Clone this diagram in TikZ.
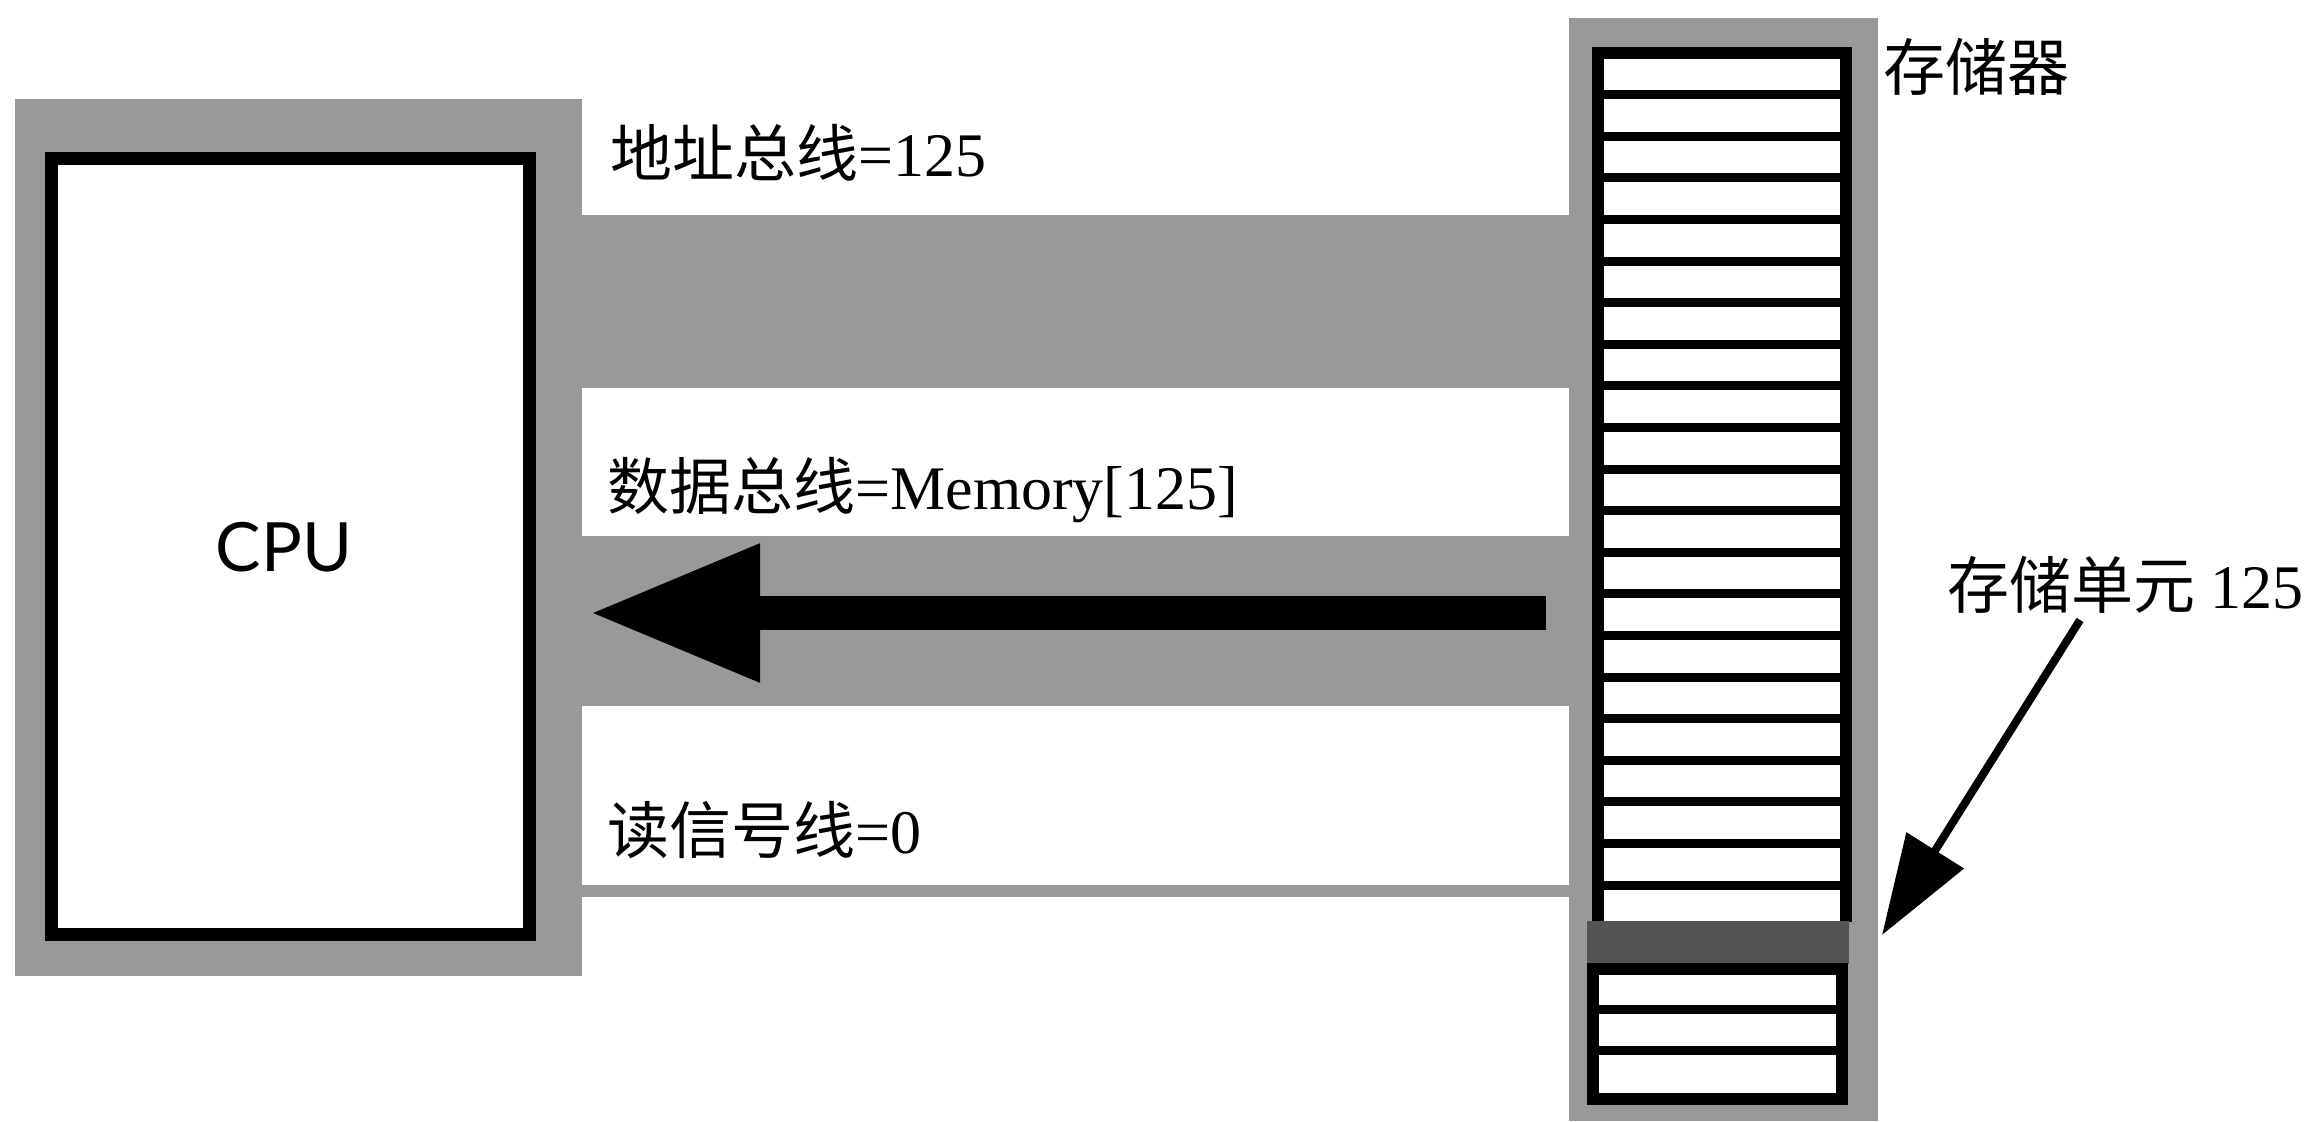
\documentclass[tikz,border=0pt]{standalone}
\usepackage{fontspec}
\setmainfont{Liberation Serif}
\newfontfamily\cjk{Noto Sans CJK SC}
\newfontfamily\cpufont{Lato}
\usetikzlibrary{arrows.meta,calc}
\definecolor{busgray}{gray}{0.6}
\definecolor{cellgray}{gray}{0.33}
\begin{document}
\begin{tikzpicture}[x=0.5pt,y=-0.5pt,
  lbl/.style={inner sep=0pt, anchor=base west, font=\fontsize{31pt}{31pt}\selectfont},
  frame/.style={fill=busgray, draw=none, inner sep=0pt},
  blackbox/.style={draw=black, line width=6.5pt, fill=white, inner sep=0pt},
  membord/.style={draw=black, line width=6pt, line join=miter},
  memline/.style={draw=black, line width=4.5pt},
  bigarrow/.style={draw=black, line width=17pt, -{Triangle[length=85.5pt,width=64.5pt]}},
  ptrarrow/.style={draw=black, line width=4pt, -{Triangle[length=50pt,width=33pt]}}]
\useasboundingbox (0,0) rectangle (2307,1121);
\fill[white] (0,0) rectangle (2307,1121);

% CPU
\node[frame, minimum width=283.5pt, minimum height=438.5pt] (cpuframe) at (298.5,537.5) {};
\node[blackbox, minimum width=239pt, minimum height=388pt] (cpu) at (290.5,546.5) {};
\node[inner sep=0pt, font=\cpufont\fontsize{34pt}{34pt}\selectfont] (cputext) at (284,547) {CPU};

% memory frame
\node[frame, minimum width=154.5pt, minimum height=551.5pt] (memory) at (1723.5,569.5) {};

% buses
\fill[busgray] (cpuframe.east |- 0,215) rectangle (memory.west |- 0,388);
\fill[busgray] (cpuframe.east |- 0,536) rectangle (memory.west |- 0,706);
\fill[busgray] (cpuframe.east |- 0,885) rectangle (memory.west |- 0,897);

% memory cells
\fill[white] (1598,53) rectangle (1846,922);
\draw[membord] (1598,922) -- (1598,53) -- (1846,53) -- (1846,922);
\foreach \k in {1,...,20} {
  \draw[memline] (1598,{53+41.6*\k}) -- (1846,{53+41.6*\k});
}
\node[fill=cellgray, inner sep=0pt, minimum width=131pt, minimum height=21.5pt] (cell125) at (1718,942.5) {};
\draw[membord, fill=white] (1593,969) rectangle (1842,1099);
\draw[memline] (1593,1009) -- (1842,1009);
\draw[memline] (1593,1050) -- (1842,1050);

% labels
\node[lbl] (addr) at (610,176) {{\cjk 地址总线}=125};
\node[lbl] (data) at (607,509) {{\cjk 数据总线}=Memory[125]};
\node[lbl] (read) at (607,853) {{\cjk 读信号线}=0};
\node[lbl] (memlbl) at (1883,90) {\cjk 存储器};
\node[lbl] (celllbl) at (1947,608) {{\cjk 存储单元} 125};

% data arrow
\coordinate (dstart) at (1546,613);
\coordinate (dtip) at (589,613);
\draw[bigarrow] (dstart) -- (dtip);

% pointer arrow
\coordinate (ptail) at (2080,620);
\coordinate (ptip) at (1882,935);
\draw[ptrarrow] (ptail) -- (ptip);
\end{tikzpicture}
\end{document}
